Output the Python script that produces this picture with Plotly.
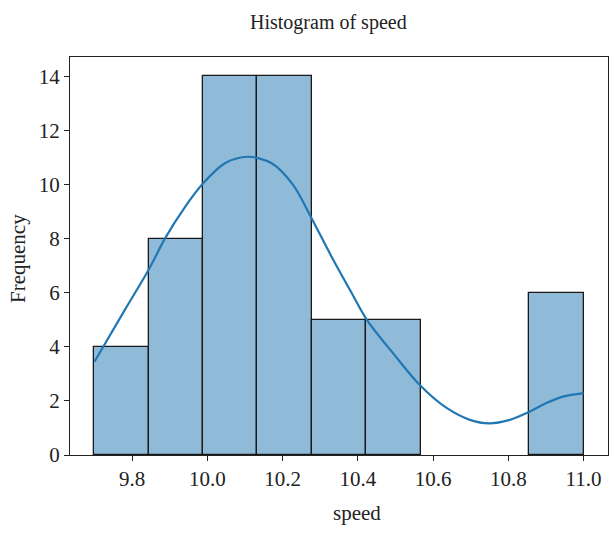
import plotly.graph_objects as go

# ---- data ----
bin_left = [9.700, 9.8444, 9.9889, 10.1333, 10.2778, 10.4222, 10.5667, 10.7111, 10.8556]
bin_width = 0.14444
counts = [4, 8, 14, 14, 5, 5, 0, 0, 6]

kde_x = [9.700, 9.780, 9.846, 9.888, 9.941, 9.989, 10.047, 10.107, 10.171, 10.228,
         10.277, 10.330, 10.384, 10.424, 10.501, 10.564, 10.636, 10.698, 10.749,
         10.804, 10.855, 10.901, 10.945, 11.000]
kde_y = [3.45, 5.35, 6.90, 8.02, 9.18, 10.05, 10.79, 11.03, 10.79, 9.99,
         8.76, 7.34, 5.98, 5.00, 3.64, 2.60, 1.74, 1.30, 1.17,
         1.30, 1.59, 1.92, 2.16, 2.29]

x_ticks = [9.8, 10.0, 10.2, 10.4, 10.6, 10.8, 11.0]
y_ticks = [0, 2, 4, 6, 8, 10, 12, 14]

title_text = "Histogram of speed"
x_label = "speed"
y_label = "Frequency"

FONT = "Liberation Serif, Times New Roman, serif"
INK = "#222222"

bar_x = [l + bin_width / 2 for l in bin_left]
edge_w = [1.3 if c > 0 else 0 for c in counts]

fig = go.Figure()
fig.add_trace(go.Bar(
    x=bar_x, y=counts, width=[bin_width] * len(counts),
    marker=dict(color="rgba(31,119,180,0.5)", line=dict(color="#1a1a1a", width=edge_w)),
    showlegend=False, hoverinfo="skip",
))
fig.add_trace(go.Scatter(
    x=kde_x, y=kde_y, mode="lines",
    line=dict(color="#2077b4", width=2.2, shape="spline", smoothing=0.9),
    showlegend=False, hoverinfo="skip",
))

fig.update_layout(
    width=609, height=535,
    margin=dict(l=70, r=1, t=57, b=80),
    paper_bgcolor="white", plot_bgcolor="white",
    font=dict(family=FONT, size=21, color=INK),
    bargap=0,
    annotations=[
        dict(text=title_text, x=0.4805, y=1.086, xref="paper", yref="paper",
             xanchor="center", yanchor="middle", showarrow=False,
             font=dict(family=FONT, size=20, color=INK)),
        dict(text=x_label, x=0.5335, y=-0.145, xref="paper", yref="paper",
             xanchor="center", yanchor="middle", showarrow=False,
             font=dict(family=FONT, size=21, color=INK)),
        dict(text=y_label, x=-0.0967, y=0.495, xref="paper", yref="paper",
             xanchor="center", yanchor="middle", showarrow=False, textangle=-90,
             font=dict(family=FONT, size=21, color=INK)),
    ],
)
fig.update_xaxes(
    range=[9.635, 11.065], tickvals=x_ticks, ticktext=[f"{v:.1f}" for v in x_ticks],
    showgrid=False, zeroline=False, showline=True, mirror=True,
    linecolor=INK, linewidth=1, ticks="outside", ticklen=5, tickwidth=1, tickcolor=INK,
)
fig.update_yaxes(
    range=[0, 14.72], tickvals=y_ticks,
    showgrid=False, zeroline=False, showline=True, mirror=True,
    linecolor=INK, linewidth=1, ticks="outside", ticklen=5, tickwidth=1, tickcolor=INK,
)

fig.write_html("out.html")
